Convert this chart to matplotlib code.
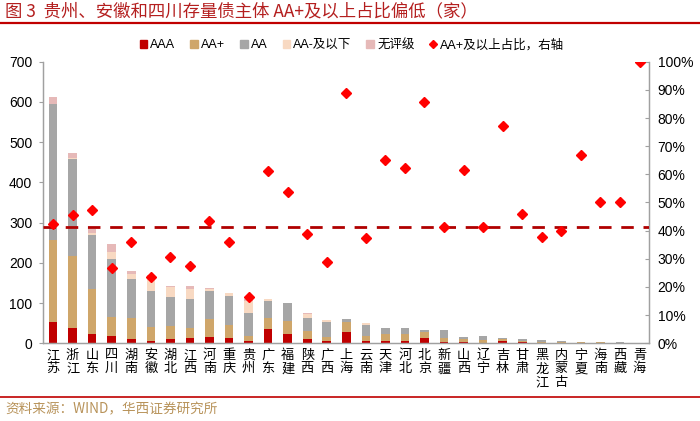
import matplotlib
matplotlib.use("Agg")
import matplotlib.pyplot as plt
from matplotlib.lines import Line2D
from matplotlib.patches import Patch
import numpy as np

plt.rcParams['font.family'] = ['Liberation Sans', 'Noto Sans CJK SC', 'DejaVu Sans']

provinces = ["江苏", "浙江", "山东", "四川", "湖南", "安徽", "湖北", "江西", "河南", "重庆",
             "贵州", "广东", "福建", "陕西", "广西", "上海", "云南", "天津", "河北", "北京",
             "新疆", "山西", "辽宁", "吉林", "甘肃", "黑龙江", "内蒙古", "宁夏", "海南", "西藏", "青海"]
aaa = [54, 39, 24, 18, 10, 5, 11, 12, 15, 12,
       6, 35, 23, 11, 5, 29, 6, 6, 6, 12,
       2, 3, 1, 6, 2, 0, 0, 0, 0, 0, 0]
aa_plus = [204, 178, 112, 47, 54, 35, 33, 27, 45, 33,
           12, 29, 33, 20, 11, 24, 13, 18, 17, 17,
           12, 7, 6, 4, 3, 3, 2, 2, 2, 1, 1]
aa = [336, 241, 134, 144, 97, 91, 72, 71, 69, 73,
      58, 40, 44, 33, 38, 7, 27, 13, 14, 5,
      20, 6, 10, 3, 5, 5, 3, 1, 2, 1, 0]
aa_minus = [0, 2, 5, 18, 11, 33, 23, 26, 7, 8,
            30, 5, 0, 8, 4, 0, 4, 0, 0, 0,
            0, 0, 0, 0, 0, 0, 0, 0, 0, 0, 0]
unrated = [18, 12, 8, 19, 7, 6, 4, 7, 2, 0,
           4, 0, 0, 3, 0, 0, 0, 0, 0, 0,
           0, 0, 0, 0, 1, 0, 0, 0, 0, 0, 0]
ratio = [42.5, 45.7, 47.4, 26.6, 35.8, 23.6, 30.7, 27.3, 43.5, 35.8,
         16.4, 61.2, 53.8, 38.8, 28.9, 88.8, 37.3, 65.1, 62.4, 85.7,
         41.4, 61.5, 41.4, 77.2, 45.9, 37.6, 39.9, 66.9, 50.2, 50.2, 100.0]
avg_ratio = 41.3

c_aaa = "#C00000"
c_aap = "#CFA66A"
c_aa = "#A6A6A6"
c_aam = "#F8D9C2"
c_un = "#E6B9B8"
c_mk = "#FF0000"
title_red = "#B41F1F"

fig = plt.figure(figsize=(7.0, 4.21), dpi=100)
ax = fig.add_axes([43.3/700, 1-343.3/421, (649.3-43.3)/700, (343.3-61.7)/421])
ax2 = ax.twinx()

x = np.arange(len(provinces))
w = 0.44
b = np.zeros(len(x))
for vals, col in [(aaa, c_aaa), (aa_plus, c_aap), (aa, c_aa), (aa_minus, c_aam), (unrated, c_un)]:
    v = np.array(vals, dtype=float)
    ax.bar(x, v, w, bottom=b, color=col, zorder=2)
    b += v

ax.set_xlim(-0.5, len(x) - 0.5)
ax.set_ylim(0, 700)
ax.set_yticks(range(0, 701, 100))
ax.set_xticks(x)
ax.set_xticklabels(["\n".join(p) for p in provinces], fontsize=9.5,
                   family=['Noto Sans CJK SC'], linespacing=1.05, va='top')
ax.tick_params(axis='x', length=0, pad=4)
ax.tick_params(axis='y', direction='out', length=3, labelsize=10, color='#A0A0A0', pad=5)

ax2.set_ylim(0, 100)
ax2.set_yticks(range(0, 101, 10))
ax2.set_yticklabels([f"{v}%" for v in range(0, 101, 10)])
ax2.tick_params(axis='y', direction='in', length=3, labelsize=10, color='#A0A0A0', pad=6)
ax2.plot(x, ratio, linestyle='none', marker='D', markersize=5.3, color=c_mk, zorder=5)
ax2.axhline(avg_ratio, color="#B00000", linestyle=(0, (4.5, 3.5)), linewidth=2, zorder=4)

for a in (ax, ax2):
    a.spines['top'].set_visible(False)
    for s in ('left', 'right', 'bottom'):
        a.spines[s].set_color('#A0A0A0')
        a.spines[s].set_linewidth(0.9)

handles = [Patch(color=c_aaa), Patch(color=c_aap), Patch(color=c_aa), Patch(color=c_aam), Patch(color=c_un),
           Line2D([], [], linestyle='none', marker='D', markersize=4.5, color=c_mk)]
labels = ["AAA", "AA+", "AA", "AA-及以下", "无评级", "AA+及以上占比，右轴"]
fig.legend(handles, labels, loc='center', bbox_to_anchor=(352/700, 1-45/421), ncol=6, frameon=False,
           fontsize=9, handlelength=0.6, handleheight=0.6, handletextpad=0.25, columnspacing=1.2)

fig.text(5/700, 1-11/421, "图 3  贵州、安徽和四川存量债主体 AA+及以上占比偏低（家）", color=title_red,
         fontsize=12.5, va='center', ha='left', family=['Noto Sans CJK SC'])
fig.add_artist(Line2D([0, 1], [1-22.5/421, 1-22.5/421], color="#C00000", linewidth=1.6))
fig.add_artist(Line2D([0, 1], [1-397/421, 1-397/421], color="#C00000", linewidth=1.2))
fig.text(5/700, 1-409/421, "资料来源：WIND，华西证券研究所", color="#B8935A",
         fontsize=9.8, va='center', ha='left', family=['Noto Sans CJK SC'])

fig.savefig("out.png", dpi=100)
